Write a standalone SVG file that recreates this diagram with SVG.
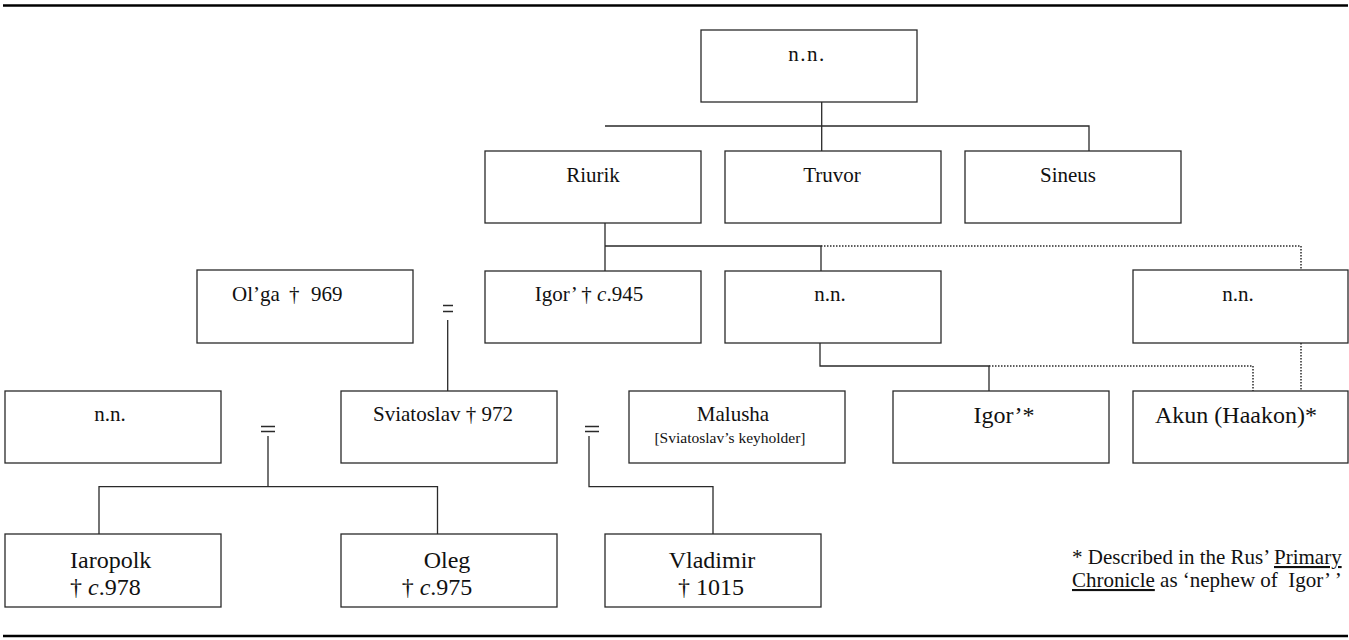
<svg xmlns="http://www.w3.org/2000/svg" width="1349" height="640" viewBox="0 0 1349 640">
<style>
.box{fill:#fff;stroke:#2a2a2a;stroke-width:1.3}
.t{font-family:"Liberation Serif","Times New Roman",serif;font-size:21px;fill:#111;text-anchor:middle}
.tl{font-family:"Liberation Serif","Times New Roman",serif;font-size:21px;fill:#111}
.big{font-size:24px}
.sm{font-size:15.5px}
.ln{fill:none;stroke:#2a2a2a;stroke-width:1.3}
.dot{fill:none;stroke:#2a2a2a;stroke-width:1.5;stroke-dasharray:1.5 1.5}
.rule{stroke:#000;stroke-width:2.5}
</style>
<rect width="1349" height="640" fill="#fff"/>
<line class="rule" x1="3" y1="5.5" x2="1348" y2="5.5"/>
<line class="rule" x1="3" y1="636" x2="1348" y2="636"/>
<g id="connectors">
<path class="ln" d="M821.7 102 V151 M605 126 H1089 V151 M605 223 V271 M605 246 H821 V271 M820 343 V366 H989 V391"/>
<path class="dot" d="M821 246 H1301 V270 M989 366 H1253 V391 M1301 343 V391"/>
<path class="ln" d="M443 305.5 H453 M443 311.5 H453 M447.7 320 V391"/>
<path class="ln" d="M261 426.5 H275 M261 431.5 H275 M268 436 V486.7 M99 534 V486.7 H437.5 V534"/>
<path class="ln" d="M585 426.5 H599 M585 431.5 H599 M589 436 V486.7 H713 V534"/>
</g>
<g id="n-top"><rect class="box" x="701" y="30" width="216" height="72"/><text class="t" x="807" y="61" letter-spacing="1.5">n.n.</text></g>
<g id="n-riurik"><rect class="box" x="485" y="151" width="216" height="72"/><text class="t" x="593" y="182">Riurik</text></g>
<g id="n-truvor"><rect class="box" x="725" y="151" width="216" height="72"/><text class="t" x="832" y="182">Truvor</text></g>
<g id="n-sineus"><rect class="box" x="965" y="151" width="216" height="72"/><text class="t" x="1068" y="182">Sineus</text></g>
<g id="n-olga"><rect class="box" x="197" y="270" width="216" height="73"/><text class="tl" y="301"><tspan x="232">Ol’ga</tspan><tspan x="289">†</tspan><tspan x="311">969</tspan></text></g>
<g id="n-igor"><rect class="box" x="485" y="271" width="216" height="72"/><text class="t" x="589" y="301">Igor’ † <tspan font-style="italic">c</tspan>.945</text></g>
<g id="n-nn-mid"><rect class="box" x="725" y="271" width="216" height="72"/><text class="t" x="830" y="301">n.n.</text></g>
<g id="n-nn-right"><rect class="box" x="1133" y="270" width="215" height="73"/><text class="t" x="1238" y="301">n.n.</text></g>
<g id="n-nn-left"><rect class="box" x="5" y="391" width="216" height="72"/><text class="t" x="110" y="421">n.n.</text></g>
<g id="n-sviatoslav"><rect class="box" x="341" y="391" width="216" height="72"/><text class="t" x="443" y="421">Sviatoslav † 972</text></g>
<g id="n-malusha"><rect class="box" x="629" y="391" width="216" height="72"/><text class="t" x="733" y="421">Malusha</text><text class="t sm" x="730" y="443">[Sviatoslav’s keyholder]</text></g>
<g id="n-igor2"><rect class="box" x="893" y="391" width="216" height="72"/><text class="t big" x="1004" y="423">Igor’*</text></g>
<g id="n-akun"><rect class="box" x="1133" y="391" width="215" height="72"/><text class="t big" x="1236" y="423">Akun (Haakon)*</text></g>
<g id="n-iaropolk"><rect class="box" x="5" y="534" width="216" height="73"/><text class="tl big" x="70" y="568">Iaropolk</text><text class="tl big" x="70" y="595">† <tspan font-style="italic">c</tspan>.978</text></g>
<g id="n-oleg"><rect class="box" x="341" y="534" width="216" height="73"/><text class="t big" x="447" y="568">Oleg</text><text class="t big" x="437" y="595">† <tspan font-style="italic">c</tspan>.975</text></g>
<g id="n-vladimir"><rect class="box" x="605" y="534" width="216" height="73"/><text class="t big" x="712" y="568">Vladimir</text><text class="t big" x="711" y="595">† 1015</text></g>
<g id="note"><text class="tl" x="1072" y="564">* Described in the Rus’ <tspan text-decoration="underline">Primary</tspan></text><text class="tl" x="1072" y="587" xml:space="preserve"><tspan text-decoration="underline">Chronicle</tspan> as ‘nephew of  Igor’ ’</text></g>
</svg>
